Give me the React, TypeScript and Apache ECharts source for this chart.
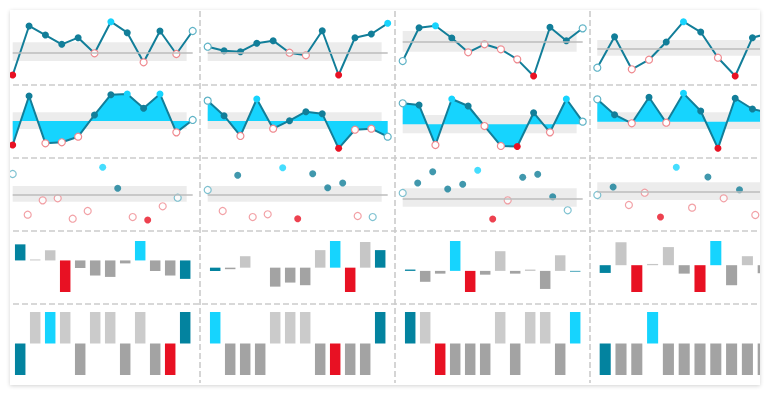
import React, { useEffect, useRef } from "react";
import * as echarts from "echarts";

// ---------- data ----------
const POINT_INDEX = [0, 1, 2, 3, 4, 5, 6, 7, 8, 9, 10, 11];

// Row 1: line sparklines
const lineValues = [
  [7.7, 83.1, 69.2, 54.9, 65.1, 41.1, 89.7, 72.8, 27.2, 75.4, 40.0, 75.4],
  [51.2, 45.1, 43.5, 56.5, 60.5, 42.0, 38.0, 75.8, 7.7, 65.1, 70.8, 87.2],
  [29.2, 80.5, 83.5, 64.6, 42.6, 54.9, 47.2, 31.8, 6.2, 81.1, 60.5, 79.5],
  [18.9, 66.6, 16.5, 31.2, 58.5, 89.7, 73.8, 34.3, 6.2, 65.1, 72.3, 60.0],
];
const lineRefs = [42.6, 42.6, 58.9, 48.8];
const lineBandLow = [29.2, 29.2, 43.5, 37.4];
const lineBandHigh = [58.0, 58.0, 75.4, 61.5];

// Row 2: area sparklines (filled to the reference value)
const areaValues = [
  [12.3, 87.7, 14.9, 16.5, 25.1, 58.5, 89.7, 90.8, 68.8, 90.8, 31.8, 50.8],
  [80.5, 57.4, 26.2, 83.1, 37.4, 49.7, 63.5, 60.5, 7.2, 35.8, 37.4, 25.1],
  [76.5, 73.8, 12.3, 83.1, 72.3, 41.5, 10.8, 10.0, 62.0, 31.8, 83.1, 48.2],
  [82.6, 58.9, 45.7, 85.7, 46.6, 91.8, 64.6, 7.2, 84.2, 67.7, 61.5, 70.0],
];
const areaRefs = [49.2, 49.2, 44.2, 48.2];
const areaBandLow = [36.9, 36.9, 30.3, 36.9];
const areaBandHigh = [62.6, 62.6, 58.5, 62.6];

// Row 3: dot sparklines
const dotValues = [
  [80.0, 17.4, 39.5, 42.6, 11.2, 23.1, 90.3, 58.0, 13.8, 9.2, 30.3, 43.5],
  [55.4, 23.1, 78.0, 13.8, 18.0, 89.7, 11.2, 80.5, 58.9, 66.2, 15.4, 13.8],
  [50.8, 66.2, 83.5, 56.9, 64.2, 85.7, 10.8, 39.5, 74.9, 79.5, 45.1, 24.2],
  [47.7, 60.0, 32.3, 51.2, 13.8, 90.3, 28.2, 75.4, 42.6, 55.8, 16.9, 40.0],
];
const dotRefs = [48.8, 48.8, 42.6, 53.4];
const dotBandLow = [37.4, 37.4, 29.7, 40.0];
const dotBandHigh = [61.5, 61.5, 58.0, 67.2];

// Row 4: column sparklines
const barValues = [
  [16.3, 1.0, 10.3, -32.0, -7.7, -15.3, -16.7, -3.0, 19.7, -10.7, -15.3, -18.7],
  [-3.3, -1.5, 11.3, 0, -18.7, -14.7, -17.3, 17.3, 26.3, -24.0, 25.3, 17.3],
  [1.3, -10.7, -2.7, 29.3, -20.7, -3.7, 19.3, -2.7, 1.3, -17.7, 15.3, -0.7],
  [-8.0, 23.7, -27.7, 1.3, 18.7, -8.7, -27.7, 25.0, -20.7, 9.3, -8.3, 5.0],
];

// Row 5: win / loss sparklines
const winLoss = [
  [-1, 1, 1, 1, -1, 1, 1, -1, 1, -1, -1, 1],
  [1, -1, -1, -1, 1, 1, 1, -1, -1, -1, -1, 1],
  [1, 1, -1, -1, -1, -1, 1, -1, 1, 1, -1, 1],
  [-1, -1, -1, 1, -1, -1, -1, -1, -1, -1, -1, -1],
];
const winLossHighIndex = [2, 0, 11, 3];
const winLossLowIndex = [10, 8, 2, 11];

// ---------- styling / layout ----------
const TEAL = "#127e99";
const TEAL_BAR = "#03839f";
const CYAN = "#16d4fe";
const RED = "#e81123";
const HOLLOW_RED = "#ef8a90";
const HOLLOW_TEAL = "#5fb3c6";
const LIGHT_GRAY = "#c6c6c6";
const DARK_GRAY = "#a3a3a3";
const BAND = "#ececec";
const REF_LINE = "#bdbdbd";
const DIVIDER = "#cbcbcb";

const CARD_W = 750;
const CARD_H = 375;
const COL_LEFT = [2.7, 197.7, 392.7, 587.3];
const COL_WIDTH = [180, 180, 180, 189.6];
const ROW_TOP = [5, 78, 151, 231, 302];
const ROW_HEIGHT = [65, 65, 65, 51, 63];
const LINE_BAND_END = 10.63; // band stops short of the last point
const DOT_BAND_END = 11.6;

function pointStyle(values: number[], i: number, ref: number) {
  const max = Math.max(...values);
  const min = Math.min(...values);
  const v = values[i];
  if (v === max) return { color: CYAN, borderWidth: 0 };
  if (v === min) return { color: RED, borderWidth: 0 };
  if (i === 0 || i === values.length - 1)
    return { color: "#ffffff", borderColor: HOLLOW_TEAL, borderWidth: 1.2 };
  if (v < ref) return { color: "#ffffff", borderColor: HOLLOW_RED, borderWidth: 1.2 };
  return { color: TEAL, borderWidth: 0 };
}

function barColor(values: number[], i: number) {
  const max = Math.max(...values);
  const min = Math.min(...values);
  const v = values[i];
  if (v === max) return CYAN;
  if (v === min) return RED;
  if (i === 0 || i === values.length - 1) return TEAL_BAR;
  return v >= 0 ? LIGHT_GRAY : DARK_GRAY;
}

function winLossColor(col: number, i: number) {
  const v = winLoss[col][i];
  if (i === winLossHighIndex[col]) return CYAN;
  if (i === winLossLowIndex[col]) return RED;
  if (i === 0 || i === winLoss[col].length - 1) return TEAL_BAR;
  return v > 0 ? "#cbcbcb" : DARK_GRAY;
}

function buildOption() {
  const grid: any[] = [];
  const xAxis: any[] = [];
  const yAxis: any[] = [];
  const series: any[] = [];

  for (let row = 0; row < 5; row++) {
    for (let col = 0; col < 4; col++) {
      const g = row * 4 + col;
      grid.push({
        left: COL_LEFT[col],
        top: ROW_TOP[row],
        width: COL_WIDTH[col],
        height: ROW_HEIGHT[row],
        containLabel: false,
        outerBoundsMode: "none",
      });
      if (row <= 1) {
        xAxis.push({ type: "value", min: 0, max: 11, show: false, gridIndex: g });
        yAxis.push({ type: "value", min: 0, max: 100, show: false, gridIndex: g });
      } else if (row === 2) {
        xAxis.push({ type: "value", min: 0, max: 12, show: false, gridIndex: g });
        yAxis.push({ type: "value", min: 0, max: 100, show: false, gridIndex: g });
      } else if (row === 3) {
        xAxis.push({ type: "category", data: POINT_INDEX, show: false, gridIndex: g });
        yAxis.push({
          type: "value",
          show: false,
          gridIndex: g,
          min: (v: any) => v.min,
          max: (v: any) => v.max,
        });
      } else {
        xAxis.push({ type: "category", data: POINT_INDEX, show: false, gridIndex: g });
        yAxis.push({ type: "value", min: -1, max: 1, show: false, gridIndex: g });
      }

      if (row <= 2) {
        const values = row === 0 ? lineValues[col] : row === 1 ? areaValues[col] : dotValues[col];
        const ref = row === 0 ? lineRefs[col] : row === 1 ? areaRefs[col] : dotRefs[col];
        const lo = row === 0 ? lineBandLow[col] : row === 1 ? areaBandLow[col] : dotBandLow[col];
        const hi = row === 0 ? lineBandHigh[col] : row === 1 ? areaBandHigh[col] : dotBandHigh[col];
        const bandEnd = row === 2 ? DOT_BAND_END : LINE_BAND_END;
        const xEnd = row === 2 ? 12 : 11;
        const pairs = values.map((v, i) => [i, v]);

        // band
        series.push({
          type: "line",
          xAxisIndex: g,
          yAxisIndex: g,
          data: pairs,
          symbol: "none",
          lineStyle: { opacity: 0 },
          silent: true,
          z: 1,
          markArea: {
            silent: true,
            itemStyle: { color: BAND },
            data: [[{ xAxis: 0, yAxis: lo }, { xAxis: bandEnd, yAxis: hi }]],
          },
        });
        // reference line
        if (row !== 1) {
          series.push({
            type: "line",
            xAxisIndex: g,
            yAxisIndex: g,
            data: pairs,
            symbol: "none",
            lineStyle: { opacity: 0 },
            silent: true,
            z: 2,
            markLine: {
              silent: true,
              symbol: ["none", "none"],
              label: { show: false },
              lineStyle: { color: REF_LINE, width: 1.5, type: "solid" },
              data: [[{ coord: [0, ref] }, { coord: [xEnd, ref] }]],
            },
          });
        }
        const styledData = values.map((v, i) => ({
          value: [i, v],
          itemStyle: pointStyle(values, i, ref),
        }));
        if (row === 2) {
          series.push({
            type: "scatter",
            xAxisIndex: g,
            yAxisIndex: g,
            data: styledData,
            symbol: "circle",
            symbolSize: 7,
            silent: true,
            z: 3,
          });
        } else {
          series.push({
            type: "line",
            xAxisIndex: g,
            yAxisIndex: g,
            data: styledData,
            symbol: "circle",
            symbolSize: 7,
            showSymbol: true,
            showAllSymbol: true,
            lineStyle: { color: TEAL, width: 2 },
            itemStyle: { color: TEAL },
            areaStyle:
              row === 1 ? { color: CYAN, opacity: 1, origin: ref } : undefined,
            silent: true,
            z: 3,
          });
        }
      } else if (row === 3) {
        const values = barValues[col];
        series.push({
          type: "bar",
          xAxisIndex: g,
          yAxisIndex: g,
          barWidth: "70%",
          data: values.map((v, i) => ({ value: v, itemStyle: { color: barColor(values, i) } })),
          silent: true,
          z: 3,
        });
      } else {
        const values = winLoss[col];
        series.push({
          type: "bar",
          xAxisIndex: g,
          yAxisIndex: g,
          barWidth: "70%",
          data: values.map((v, i) => ({ value: v, itemStyle: { color: winLossColor(col, i) } })),
          silent: true,
          z: 3,
        });
      }
    }
  }

  const dividerStyle = { stroke: DIVIDER, lineWidth: 1.6, lineDash: [6, 3] };
  const graphic: any[] = [];
  [190, 385, 580].forEach((x) =>
    graphic.push({
      type: "line",
      silent: true,
      z: 0,
      shape: { x1: x, y1: 1, x2: x, y2: 373 },
      style: dividerStyle,
    })
  );
  [75, 148, 221, 294].forEach((y) =>
    graphic.push({
      type: "line",
      silent: true,
      z: 0,
      shape: { x1: 3, y1: y, x2: CARD_W, y2: y },
      style: dividerStyle,
    })
  );

  return { animation: false, grid, xAxis, yAxis, series, graphic };
}

export default function App() {
  const ref = useRef<HTMLDivElement | null>(null);
  useEffect(() => {
    if (!ref.current) return;
    const chart = echarts.init(ref.current, undefined, { renderer: "svg" });
    chart.setOption(buildOption() as any);
    return () => chart.dispose();
  }, []);
  return (
    <div
      style={{
        position: "absolute",
        left: 10,
        top: 10,
        width: CARD_W,
        height: CARD_H,
        background: "#ffffff",
        boxShadow: "0 1px 4px rgba(0,0,0,0.18)",
        overflow: "hidden",
      }}
    >
      <div ref={ref} style={{ width: CARD_W, height: CARD_H }} />
    </div>
  );
}
